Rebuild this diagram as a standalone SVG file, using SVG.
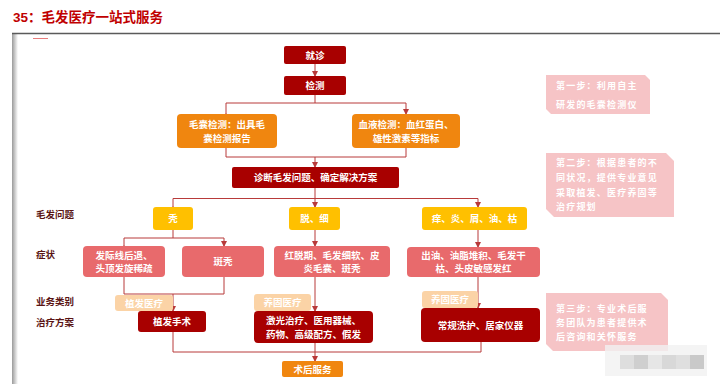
<svg xmlns="http://www.w3.org/2000/svg" width="720" height="384" viewBox="0 0 720 384">
<defs>
<style>
text{font-family:"Noto Sans CJK SC","Noto Sans",sans-serif;font-weight:bold;}
.w{fill:#ffffff;font-size:9.5px;text-anchor:middle;}
.dr{fill:#a80000;}
.or{fill:#f0860f;}
.ye{fill:#ffc000;}
.pk{fill:#e86a6c;}
.tag{fill:#fbd3a6;}
.note{fill:#f6c4c6;}
.nt{fill:#ffffff;font-size:9px;letter-spacing:1.2px;}
.lbl{fill:#5a1414;font-size:9.5px;}
.c{fill:none;stroke:#b83a3a;stroke-width:1;}
</style>
<marker id="ah" markerWidth="6" markerHeight="6" refX="5" refY="3" orient="auto" markerUnits="userSpaceOnUse">
<path d="M0,0 L6,3 L0,6 z" fill="#b83a3a"/>
</marker>
<linearGradient id="sh" x1="0" y1="0" x2="1" y2="0">
<stop offset="0" stop-color="#9a9a9a"/>
<stop offset="1" stop-color="#ffffff"/>
</linearGradient>
</defs>
<rect width="720" height="384" fill="#ffffff"/>
<!-- frame -->
<g id="frame">
<rect x="12" y="33" width="6" height="351" fill="url(#sh)"/>
<line x1="12" y1="33.5" x2="720" y2="33.5" stroke="#5a5a5a" stroke-width="1.5"/>
<line x1="33" y1="38.5" x2="48" y2="38.5" stroke="#e87c7c" stroke-width="1"/>
<text x="13" y="22" style="font-family:'Liberation Sans','Noto Sans CJK SC',sans-serif;font-size:13.5px;font-weight:bold;fill:#c00000;">35：毛发医疗一站式服务</text>
</g>
<!-- connectors -->
<g id="connectors">
<line class="c" x1="315" y1="64" x2="315" y2="76" marker-end="url(#ah)"/>
<polyline class="c" points="315,95 315,103"/>
<polyline class="c" points="226,114 226,103 406,103 406,114" marker-start="url(#ah)" marker-end="url(#ah)"/>
<polyline class="c" points="226,148 226,157 406,157 406,148"/>
<line class="c" x1="315" y1="157" x2="315" y2="167" marker-end="url(#ah)"/>
<line class="c" x1="315" y1="188" x2="315" y2="198.5"/>
<polyline class="c" points="173,207 173,198.5 478,198.5 478,207" marker-start="url(#ah)" marker-end="url(#ah)"/>
<line class="c" x1="315" y1="198.5" x2="315" y2="207" marker-end="url(#ah)"/>
<line class="c" x1="173" y1="230" x2="173" y2="238"/>
<polyline class="c" points="124,246 124,238 224,238 224,246" marker-start="url(#ah)" marker-end="url(#ah)"/>
<line class="c" x1="315" y1="230" x2="315" y2="246" marker-end="url(#ah)"/>
<line class="c" x1="478" y1="230" x2="478" y2="247" marker-end="url(#ah)"/>
<polyline class="c" points="124,277 124,294 224,294 224,277"/>
<line class="c" x1="173" y1="294" x2="173" y2="311" marker-end="url(#ah)"/>
<line class="c" x1="315" y1="277" x2="315" y2="311" marker-end="url(#ah)"/>
<line class="c" x1="478" y1="277" x2="478" y2="308" marker-end="url(#ah)"/>
<polyline class="c" points="173,332 173,352 481,352 481,342"/>
<line class="c" x1="315" y1="343" x2="315" y2="361" marker-end="url(#ah)"/>
</g>
<!-- row labels -->
<g id="labels">
<text class="lbl" x="36" y="218">毛发问题</text>
<text class="lbl" x="36" y="258">症状</text>
<text class="lbl" x="36" y="305">业务类别</text>
<text class="lbl" x="36" y="326">治疗方案</text>
</g>
<g id="n-jiuzhen"><rect class="dr" x="284" y="46" width="62" height="18" rx="2"/><text class="w" x="315" y="58.5">就诊</text></g>
<g id="n-jiance"><rect class="dr" x="284" y="76" width="62" height="19" rx="2"/><text class="w" x="315" y="89">检测</text></g>
<g id="n-maonang"><rect class="or" x="177" y="114" width="100" height="34" rx="4"/><text class="w" x="227" y="128">毛囊检测：出具毛</text><text class="w" x="227" y="142">囊检测报告</text></g>
<g id="n-xueye"><rect class="or" x="352" y="114" width="108" height="34" rx="4"/><text class="w" x="406" y="128">血液检测：血红蛋白、</text><text class="w" x="406" y="142">雄性激素等指标</text></g>
<g id="n-zhenduan"><rect class="dr" x="232" y="167" width="167" height="21" rx="2"/><text class="w" x="315.5" y="181">诊断毛发问题、确定解决方案</text></g>
<g id="n-tu"><rect class="ye" x="153" y="207" width="40" height="23" rx="3"/><text class="w" x="173" y="222">秃</text></g>
<g id="n-tuoxi"><rect class="ye" x="289" y="207" width="51" height="23" rx="3"/><text class="w" x="314.5" y="222">脱、细</text></g>
<g id="n-yang"><rect class="ye" x="422" y="207" width="105" height="23" rx="3"/><text class="w" x="474.5" y="222">痒、炎、屑、油、枯</text></g>
<g id="n-s1"><rect class="pk" x="83" y="246" width="82" height="31" rx="4"/><text class="w" x="124" y="259">发际线后退、</text><text class="w" x="124" y="272">头顶发旋稀疏</text></g>
<g id="n-s2"><rect class="pk" x="182" y="246" width="82" height="31" rx="4"/><text class="w" x="223" y="265">斑秃</text></g>
<g id="n-s3"><rect class="pk" x="274" y="246" width="116" height="31" rx="4"/><text class="w" x="332" y="259">红脱期、毛发细软、皮</text><text class="w" x="332" y="272">炎毛囊、斑秃</text></g>
<g id="n-s4"><rect class="pk" x="407" y="247" width="133" height="30" rx="4"/><text class="w" x="473.5" y="259">出油、油脂堆积、毛发干</text><text class="w" x="473.5" y="272">枯、头皮敏感发红</text></g>
<g id="t-zhifa"><rect class="tag" x="115" y="295" width="58" height="16" rx="3"/><text class="w" x="144" y="306.5">植发医疗</text></g>
<g id="t-yanggu1"><rect class="tag" x="254" y="294" width="57" height="17" rx="3"/><text class="w" x="282.5" y="306">养固医疗</text></g>
<g id="t-yanggu2"><rect class="tag" x="422" y="291" width="56" height="17" rx="3"/><text class="w" x="450" y="303">养固医疗</text></g>
<g id="n-zhifashoushu"><rect class="dr" x="138" y="311" width="68" height="21" rx="3"/><text class="w" x="172" y="325">植发手术</text></g>
<g id="n-jiguang"><rect class="dr" x="254" y="311" width="119" height="32" rx="4"/><text class="w" x="313.5" y="324">激光治疗、医用器械、</text><text class="w" x="313.5" y="338">药物、高级配方、假发</text></g>
<g id="n-changgui"><rect class="dr" x="421" y="308" width="119" height="34" rx="4"/><text class="w" x="480.5" y="328.5">常规洗护、居家仪器</text></g>
<g id="n-shuhou"><rect class="or" x="282" y="361" width="61" height="16" rx="2"/><text class="w" x="312.5" y="372.5">术后服务</text></g>
<g id="note1"><polygon class="note" points="546,75 645,75 650,80 650,114 551,114 546,109"/>
<text class="nt" x="556" y="89">第一步：利用自主</text><text class="nt" x="556" y="108">研发的毛囊检测仪</text></g>
<g id="note2"><polygon class="note" points="546,153 666,153 674,161 674,217 554,217 546,209"/>
<text class="nt" x="556" y="166">第二步：根据患者的不</text><text class="nt" x="556" y="181">同状况，提供专业意见</text><text class="nt" x="556" y="196">采取植发、医疗养固等</text><text class="nt" x="556" y="210">治疗规划</text></g>
<g id="note3"><polygon class="note" points="546,293 661,293 668,300 668,351 553,351 546,344"/>
<text class="nt" x="556" y="312">第三步：专业术后服</text><text class="nt" x="556" y="326">务团队为患者提供术</text><text class="nt" x="556" y="340">后咨询和关怀服务</text></g>
<g id="blur" opacity="0.8">
<rect x="605" y="345" width="102" height="31" fill="#f2f2f2"/>
<rect x="620" y="355" width="14" height="14" fill="#d6d6d6"/>
<rect x="634" y="355" width="14" height="14" fill="#c4c4c4"/>
<rect x="648" y="355" width="14" height="14" fill="#e0e0e0"/>
<rect x="662" y="355" width="14" height="14" fill="#cfcfcf"/>
<rect x="676" y="355" width="14" height="14" fill="#d8d8d8"/>
<rect x="690" y="355" width="14" height="14" fill="#bcbcbc"/>
</g>
</svg>
